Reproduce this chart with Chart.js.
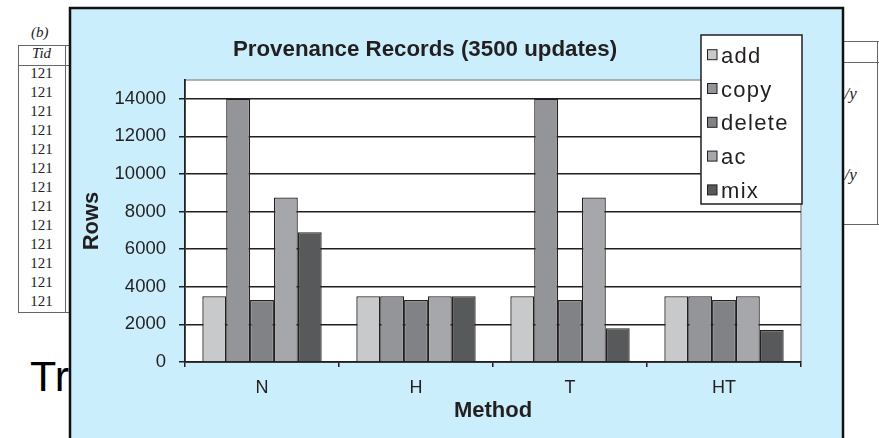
<!DOCTYPE html>
<html>
<head>
<meta charset="utf-8">
<script src="https://cdn.jsdelivr.net/npm/chart.js@4/dist/chart.umd.min.js"></script>
<style>
html,body{margin:0;padding:0;background:#fff;}
#wrap{position:relative;width:879px;height:438px;overflow:hidden;}
#bg{position:absolute;left:0;top:0;width:879px;height:438px;font-family:"Liberation Serif","DejaVu Serif",serif;color:#222;}
#bg div{position:absolute;}
.ln{background:#666;}
.it{font-style:italic;}
canvas{position:absolute;left:0;top:0;}
</style>
</head>
<body>
<div id="wrap">
  <div id="bg">
    <div class="it" style="left:31px;top:24px;font-size:15px;">(b)</div>
    <div class="ln" style="left:18px;top:45px;width:52px;height:1px;"></div>
    <div class="ln" style="left:18px;top:65px;width:52px;height:1px;"></div>
    <div class="ln" style="left:18px;top:312px;width:52px;height:1px;"></div>
    <div class="ln" style="left:18px;top:45px;width:1px;height:268px;"></div>
    <div class="ln" style="left:65px;top:45px;width:1px;height:268px;"></div>
    <div class="it" style="left:18px;width:47px;text-align:center;top:45px;font-size:15px;">Tid</div>
    <div id="rows"></div>
    <div style="left:30px;top:352px;font-family:'Liberation Sans',Arial,sans-serif;font-size:43px;color:#000;">Tr</div>
    <div class="ln" style="left:843px;top:41px;width:36px;height:1px;"></div>
    <div class="ln" style="left:843px;top:62px;width:36px;height:1px;"></div>
    <div class="ln" style="left:843px;top:224px;width:36px;height:1px;"></div>
    <div class="ln" style="left:877px;top:41px;width:1px;height:184px;"></div>
    <div class="it" style="left:836px;top:84px;font-size:17px;">1/y</div>
    <div style="left:838px;top:102px;font-size:11px;">2</div>
    <div style="left:838px;top:149px;font-size:11px;">3</div>
    <div class="it" style="left:836px;top:165px;font-size:17px;">3/y</div>
    <div style="left:838px;top:189px;font-size:11px;">2</div>
  </div>
  <canvas id="c" width="879" height="438"></canvas>
</div>
<script>
// ---- data ----
const categories = ['N', 'H', 'T', 'HT'];
const seriesNames = ['add', 'copy', 'delete', 'ac', 'mix'];
const addValues    = [3500, 3500, 3500, 3500];
const copyValues   = [14000, 3500, 14000, 3500];
const deleteValues = [3300, 3300, 3300, 3300];
const acValues     = [8750, 3500, 8750, 3500];
const mixValues    = [6900, 3500, 1800, 1700];
const yTickValues  = [0, 2000, 4000, 6000, 8000, 10000, 12000, 14000];
const chartTitle = 'Provenance Records (3500 updates)';
const xTitle = 'Method';
const yTitle = 'Rows';

// background table rows (decorative)
(function(){
  const r = document.getElementById('rows');
  let html = '';
  for (let i = 0; i < 13; i++) {
    html += '<div style="left:18px;width:47px;text-align:center;top:' + (65 + i*19) + 'px;font-size:15px;">121</div>';
  }
  r.innerHTML = html;
})();

// ---- styles ----
const INK = '#231f20';
const colors = ['#c8c9cb', '#949599', '#808285', '#a6a7aa', '#58595b'];
const FONT = "'Liberation Sans', Arial, Helvetica, sans-serif";
const seriesValues = [addValues, copyValues, deleteValues, acValues, mixValues];

const panelPlugin = {
  id: 'panel',
  beforeDraw(chart) {
    const ctx = chart.ctx, a = chart.chartArea;
    ctx.save();
    ctx.fillStyle = '#caeefc';
    ctx.fillRect(70, 8, 773, 440);
    ctx.strokeStyle = '#111';
    ctx.lineWidth = 2.5;
    ctx.beginPath();
    ctx.moveTo(70, 450); ctx.lineTo(70, 8); ctx.lineTo(843, 8); ctx.lineTo(843, 450);
    ctx.stroke();
    ctx.fillStyle = '#fff';
    ctx.fillRect(a.left, a.top, a.right - a.left, a.bottom - a.top);
    ctx.strokeStyle = '#9a9a9a';
    ctx.lineWidth = 1.5;
    ctx.beginPath();
    ctx.moveTo(a.left, a.top); ctx.lineTo(a.right, a.top); ctx.lineTo(a.right, a.bottom);
    ctx.stroke();
    ctx.restore();
  },
  afterDraw(chart) {
    const ctx = chart.ctx;
    ctx.save();
    // title
    ctx.fillStyle = INK;
    ctx.font = 'bold 22.3px ' + FONT;
    ctx.textAlign = 'center';
    ctx.textBaseline = 'alphabetic';
    ctx.fillText(chartTitle, 425, 56);
    // legend
    const bx = 701, by = 35, bw = 101, bh = 169;
    ctx.fillStyle = '#fff';
    ctx.fillRect(bx, by, bw, bh);
    ctx.strokeStyle = INK;
    ctx.lineWidth = 1.5;
    ctx.strokeRect(bx, by, bw, bh);
    ctx.font = '22px ' + FONT;
    ctx.textAlign = 'left';
    try { ctx.letterSpacing = '1.3px'; } catch (e) {}
    chart.data.datasets.forEach((ds, i) => {
      const base = 62.7 + i * 33.8;
      ctx.fillStyle = ds.backgroundColor;
      ctx.fillRect(707.5, base - 13, 9.5, 10);
      ctx.lineWidth = 1;
      ctx.strokeStyle = INK;
      ctx.strokeRect(707.5, base - 13, 9.5, 10);
      ctx.fillStyle = INK;
      ctx.fillText(ds.label, 721, base);
    });
    ctx.restore();
  }
};

new Chart(document.getElementById('c'), {
  type: 'bar',
  data: {
    labels: categories,
    datasets: seriesNames.map((name, i) => ({
      label: name,
      data: seriesValues[i],
      backgroundColor: colors[i],
      borderColor: INK,
      borderWidth: 1.3,
      categoryPercentage: 0.775,
      barPercentage: 1.0
    }))
  },
  options: {
    responsive: false,
    animation: false,
    events: [],
    layout: { padding: { left: 70, top: 80, right: 78, bottom: 0 } },
    plugins: { legend: { display: false }, title: { display: false }, tooltip: { enabled: false } },
    scales: {
      x: {
        offset: true,
        grid: { offset: true, drawOnChartArea: false, drawTicks: true, tickLength: 5, color: INK, lineWidth: 1.5 },
        border: { color: INK, width: 1.8 },
        ticks: { font: { family: FONT, size: 18 }, color: INK, padding: 10 },
        title: { display: true, text: xTitle, font: { family: FONT, size: 22, weight: 'bold' }, color: INK, padding: { top: 0, bottom: 14 } },
        afterFit(s) { s.height = 76; }
      },
      y: {
        min: 0,
        max: 15000,
        afterBuildTicks(s) { s.ticks = yTickValues.map(v => ({ value: v })); },
        grid: { color: INK, lineWidth: 1.5, tickLength: 6 },
        border: { color: INK, width: 1.8 },
        ticks: { font: { family: FONT, size: 18.5 }, color: INK, padding: 13, callback: v => String(v) },
        title: { display: true, text: yTitle, font: { family: FONT, size: 22, weight: 'bold' }, color: INK, padding: { top: 9, bottom: 0 } },
        afterFit(s) { s.width = 115; }
      }
    }
  },
  plugins: [panelPlugin]
});
</script>
</body>
</html>
